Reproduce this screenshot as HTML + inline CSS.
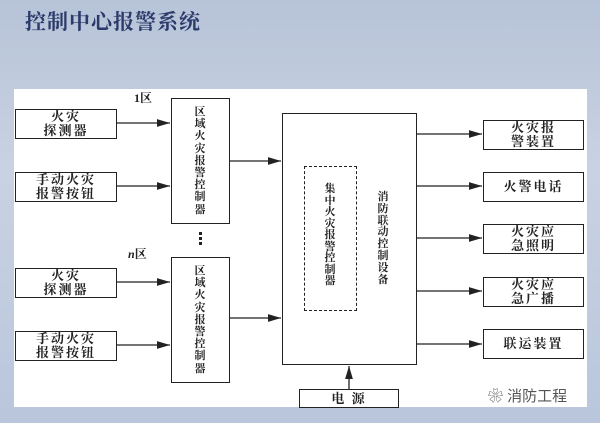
<!DOCTYPE html>
<html><head><meta charset="utf-8"><style>
body{margin:0;width:600px;height:423px;overflow:hidden;background:linear-gradient(180deg,#b7c3d8 0%,#c9d2e2 40%,#b9c6dc 100%);position:relative;font-family:"Liberation Serif","Noto Serif CJK SC",serif;}
.title{position:absolute;left:25px;top:6px;font-size:21px;color:#2b3a6a;font-weight:bold;letter-spacing:1px}
.panel{position:absolute;left:14px;top:89px;width:573px;height:318px;background:#fff}
.b{position:absolute;border:1.5px solid #222;box-sizing:border-box;background:#fff;font-size:13px;font-weight:bold;color:#222;text-align:center;line-height:14px;display:flex;align-items:center;justify-content:center;letter-spacing:2px}
.v{position:absolute;font-size:11px;font-weight:bold;color:#222;width:16px;text-align:center;line-height:12.2px}
.lab{position:absolute;font-size:12px;font-weight:bold;color:#222}
svg{position:absolute;left:0;top:0}
</style></head><body>
<div class="title">控制中心报警系统</div>
<div class="panel"></div>
<div class="b" style="left:15px;top:109px;width:102px;height:30px">火灾<br>探测器</div>
<div class="b" style="left:15px;top:172px;width:102px;height:30px">手动火灾<br>报警按钮</div>
<div class="b" style="left:15px;top:268px;width:102px;height:30px">火灾<br>探测器</div>
<div class="b" style="left:15px;top:331px;width:102px;height:30px">手动火灾<br>报警按钮</div>
<div class="b" style="left:171px;top:98px;width:59px;height:126px"></div>
<div class="v" style="left:192px;top:106px">区<br>域<br>火<br>灾<br>报<br>警<br>控<br>制<br>器</div>
<div class="b" style="left:171px;top:257px;width:59px;height:126px"></div>
<div class="v" style="left:192px;top:265px">区<br>域<br>火<br>灾<br>报<br>警<br>控<br>制<br>器</div>
<div class="lab" style="left:134px;top:89px">1区</div>
<div class="lab" style="left:128px;top:245px"><i>n</i>区</div>
<div class="b" style="left:282px;top:113px;width:135px;height:252px"></div>
<div style="position:absolute;left:304px;top:166px;width:53px;height:145px;border:1.5px dashed #222;box-sizing:border-box"></div>
<div class="v" style="left:322px;top:184px;line-height:11.5px">集<br>中<br>火<br>灾<br>报<br>警<br>控<br>制<br>器</div>
<div class="v" style="left:375px;top:192px;line-height:11.8px">消<br>防<br>联<br>动<br>控<br>制<br>设<br>备</div>
<div class="b" style="left:483px;top:120px;width:101px;height:30px">火灾报<br>警装置</div>
<div class="b" style="left:483px;top:172px;width:101px;height:30px">火警电话</div>
<div class="b" style="left:483px;top:224px;width:101px;height:30px">火灾应<br>急照明</div>
<div class="b" style="left:483px;top:277px;width:101px;height:30px">火灾应<br>急广播</div>
<div class="b" style="left:483px;top:329px;width:101px;height:30px">联运装置</div>
<div class="b" style="left:299px;top:389px;width:100px;height:19px">电 源</div>
<div style="position:absolute;left:488px;top:385px;font-size:15px;color:#555;font-family:'Liberation Sans','Noto Sans CJK SC',sans-serif">❀ 消防工程</div>
<svg width="600" height="423">
<defs><marker id="a" markerWidth="10" markerHeight="6" refX="10" refY="3" orient="auto"><path d="M0,0 L10,3 L0,6z" fill="#222"/></marker></defs>
<g stroke="#222" stroke-width="1.3" marker-end="url(#a)">
<line x1="117" y1="123" x2="170" y2="123"/>
<line x1="117" y1="186" x2="170" y2="186"/>
<line x1="117" y1="282" x2="170" y2="282"/>
<line x1="117" y1="345" x2="170" y2="345"/>
<line x1="230" y1="161" x2="281" y2="161"/>
<line x1="230" y1="318" x2="281" y2="318"/>
<line x1="417" y1="134" x2="482" y2="134"/>
<line x1="417" y1="186" x2="482" y2="186"/>
<line x1="417" y1="238" x2="482" y2="238"/>
<line x1="417" y1="291" x2="482" y2="291"/>
<line x1="417" y1="344" x2="482" y2="344"/>
<line x1="349" y1="389" x2="349" y2="366"/>
</g>
<g fill="#222"><rect x="199" y="232" width="3" height="3"/><rect x="199" y="237" width="3" height="3"/><rect x="199" y="242" width="3" height="3"/></g>
</svg>
</body></html>
